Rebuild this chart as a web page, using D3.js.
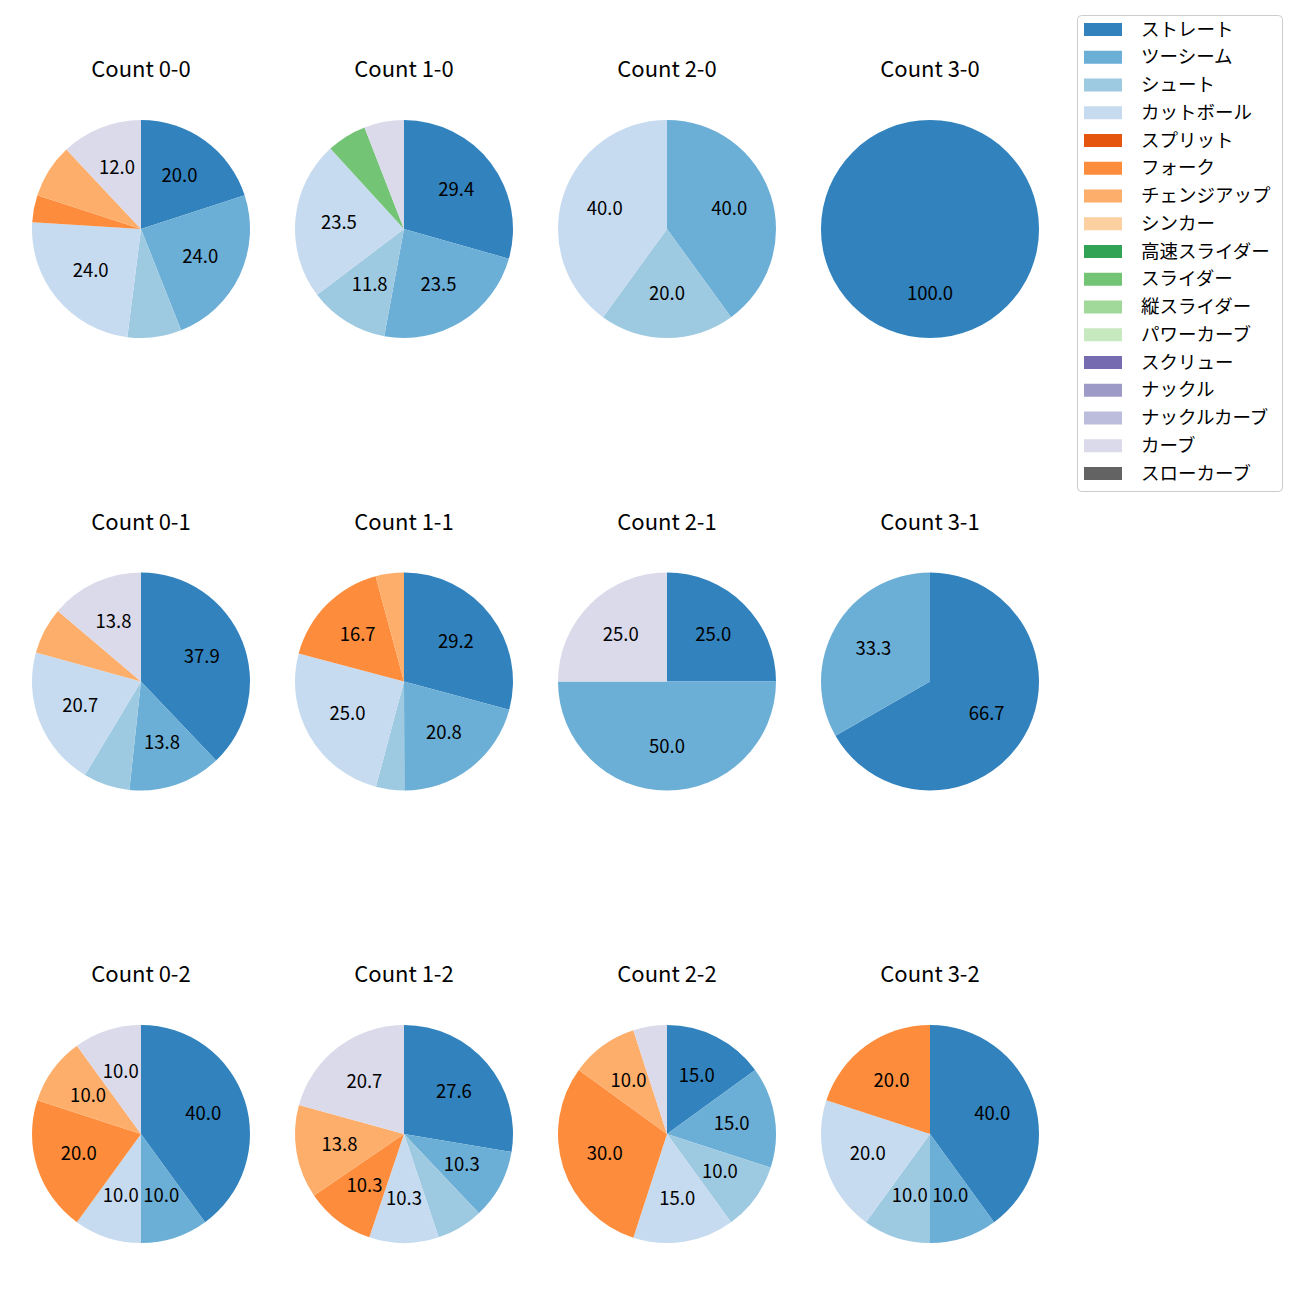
<!DOCTYPE html>
<html>
<head>
<meta charset="utf-8">
<script src="https://cdn.jsdelivr.net/npm/d3@7"></script>
<style>
  html, body { margin: 0; padding: 0; background: #ffffff; }
  svg { display: block; font-family: "Noto Sans CJK JP", "Noto Sans", sans-serif; }
</style>
</head>
<body>
<svg id="chart" width="1300" height="1300"></svg>
<script>
// ---- data ----
const pitchTypes = ["ストレート","ツーシーム","シュート","カットボール","スプリット","フォーク","チェンジアップ","シンカー","高速スライダー","スライダー","縦スライダー","パワーカーブ","スクリュー","ナックル","ナックルカーブ","カーブ","スローカーブ"];
const palette = ["#3182bd","#6baed6","#9ecae1","#c6dbef","#e6550d","#fd8d3c","#fdae6b","#fdd0a2","#31a354","#74c476","#a1d99b","#c7e9c0","#756bb1","#9e9ac8","#bcbddc","#dadaeb","#636363"];
const countLabels = ["0-0","1-0","2-0","3-0","0-1","1-1","2-1","3-1","0-2","1-2","2-2","3-2"];
// percentage shares per pitch type (same order as pitchTypes)
const share00 = [20.0, 24.0, 8.0, 24.0, 0, 4.0, 8.0, 0, 0, 0, 0, 0, 0, 0, 0, 12.0, 0];
const share10 = [29.4, 23.5, 11.8, 23.5, 0, 0, 0, 0, 0, 5.9, 0, 0, 0, 0, 0, 5.9, 0];
const share20 = [0, 40.0, 20.0, 40.0, 0, 0, 0, 0, 0, 0, 0, 0, 0, 0, 0, 0, 0];
const share30 = [100.0, 0, 0, 0, 0, 0, 0, 0, 0, 0, 0, 0, 0, 0, 0, 0, 0];
const share01 = [37.9, 13.8, 6.9, 20.7, 0, 0, 6.9, 0, 0, 0, 0, 0, 0, 0, 0, 13.8, 0];
const share11 = [29.2, 20.8, 4.2, 25.0, 0, 16.7, 4.2, 0, 0, 0, 0, 0, 0, 0, 0, 0, 0];
const share21 = [25.0, 50.0, 0, 0, 0, 0, 0, 0, 0, 0, 0, 0, 0, 0, 0, 25.0, 0];
const share31 = [66.7, 33.3, 0, 0, 0, 0, 0, 0, 0, 0, 0, 0, 0, 0, 0, 0, 0];
const share02 = [40.0, 10.0, 0, 10.0, 0, 20.0, 10.0, 0, 0, 0, 0, 0, 0, 0, 0, 10.0, 0];
const share12 = [27.6, 10.3, 6.9, 10.3, 0, 10.3, 13.8, 0, 0, 0, 0, 0, 0, 0, 0, 20.7, 0];
const share22 = [15.0, 15.0, 10.0, 15.0, 0, 30.0, 10.0, 0, 0, 0, 0, 0, 0, 0, 0, 5.0, 0];
const share32 = [40.0, 10.0, 10.0, 20.0, 0, 20.0, 0, 0, 0, 0, 0, 0, 0, 0, 0, 0, 0];
const shares = [share00, share10, share20, share30, share01, share11, share21, share31, share02, share12, share22, share32];

// ---- layout ----
const svg = d3.select("#chart");
const color = d3.scaleOrdinal().domain(pitchTypes).range(palette);
const xPos = d3.scaleLinear().domain([0, 3]).range([141, 930]);
const yPos = d3.scaleLinear().domain([0, 2]).range([229, 1134]);
const radius = 109;

const pie = d3.pie().sort(null).value(d => d.value);
const arc = d3.arc().innerRadius(0).outerRadius(radius);
const labelArc = d3.arc().innerRadius(radius * 0.6).outerRadius(radius * 0.6);

countLabels.forEach((lab, i) => {
  const col = i % 4, row = Math.floor(i / 4);
  const cx = xPos(col), cy = yPos(row);
  const data = pitchTypes.map((p, k) => ({ name: p, value: shares[i][k] })).filter(d => d.value > 0);
  const g = svg.append("g").attr("transform", `translate(${cx},${cy})`);
  const arcs = pie(data);
  g.selectAll("path").data(arcs).join("path")
    .attr("d", arc)
    .attr("fill", d => color(d.data.name));
  g.selectAll("text.lbl").data(arcs.filter(d => d.data.value >= 10)).join("text")
    .attr("class", "lbl")
    .attr("transform", d => { const c = labelArc.centroid(d); return `translate(${c[0]},${c[1] - 2})`; })
    .attr("text-anchor", "middle")
    .attr("dominant-baseline", "central")
    .attr("font-size", 18.5)
    .attr("fill", "#000")
    .text(d => d.data.value.toFixed(1));
  svg.append("text")
    .attr("x", cx)
    .attr("y", cy - 162)
    .attr("text-anchor", "middle")
    .attr("dominant-baseline", "central")
    .attr("font-size", 22)
    .attr("fill", "#000")
    .text("Count " + lab);
});

// ---- legend ----
const legend = svg.append("g");
legend.append("rect")
  .attr("x", 1077.5).attr("y", 15.5)
  .attr("width", 205).attr("height", 476)
  .attr("rx", 4).attr("ry", 4)
  .attr("fill", "#fff").attr("fill-opacity", 0.8)
  .attr("stroke", "#cccccc").attr("stroke-width", 1);
const ly = d3.scaleLinear().domain([0, pitchTypes.length - 1]).range([29.5, 473.5]);
const items = legend.selectAll("g.item").data(pitchTypes).join("g").attr("class", "item")
  .attr("transform", (d, i) => `translate(0,${ly(i)})`);
items.append("rect")
  .attr("x", 1084).attr("y", -6.5)
  .attr("width", 38).attr("height", 13)
  .attr("fill", d => color(d));
items.append("text")
  .attr("x", 1141).attr("y", -2)
  .attr("dominant-baseline", "central")
  .attr("font-size", 18.5)
  .attr("fill", "#000")
  .text(d => d);
</script>
</body>
</html>
